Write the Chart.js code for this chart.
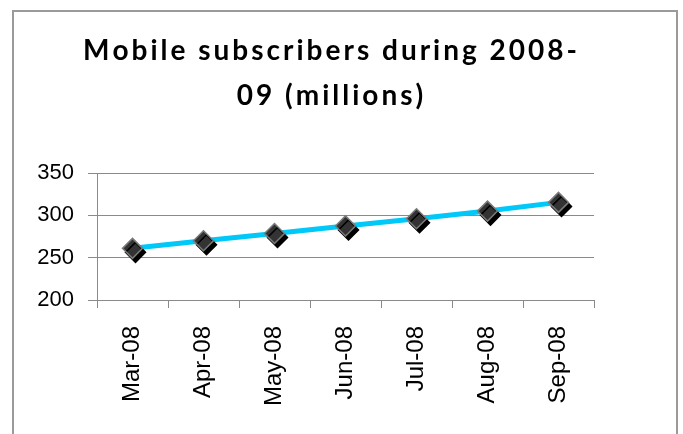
<!DOCTYPE html>
<html>
<head>
<meta charset="utf-8">
<script src="https://cdn.jsdelivr.net/npm/chart.js@4/dist/chart.umd.min.js"></script>
<style>
  html, body { margin: 0; padding: 0; background: #ffffff; }
  #wrap { position: relative; width: 683px; height: 434px; overflow: hidden; }
  #frame { position: absolute; left: 12px; top: 10px; width: 666px; height: 460px;
           border: 2px solid #9a9a9a; box-sizing: border-box; }
  #c { position: absolute; left: 0; top: 0; }
</style>
</head>
<body>
<div id="wrap">
  <div id="frame"></div>
  <canvas id="c" width="683" height="434"></canvas>
</div>
<script>
// Monthly mobile subscriber base, 2008 (millions)
const months = ["Mar-08", "Apr-08", "May-08", "Jun-08", "Jul-08", "Aug-08", "Sep-08"];
const subscribers = [261, 270, 278.6, 287.5, 296, 305, 315.3];
const yTicks = [200, 250, 300, 350];
const titleLines = ["Mobile subscribers during 2008-", "09 (millions)"];

// Drop shadow under the diamond markers only
const markerShadow = {
  id: 'markerShadow',
  beforeDatasetDraw(chart, args) {
    if (args.index !== 0) return;
    const ctx = chart.ctx;
    ctx.save();
    ctx.shadowColor = '#000000';
    ctx.shadowBlur = 0;
    ctx.shadowOffsetX = 3;
    ctx.shadowOffsetY = 4;
  },
  afterDatasetDraw(chart, args) {
    if (args.index !== 0) return;
    chart.ctx.restore();
  }
};

// Two-line bold heading with widened letter spacing, drawn glyph by glyph
const spacedTitle = {
  id: 'spacedTitle',
  afterDraw(chart, args, opts) {
    const ctx = chart.ctx;
    ctx.save();
    ctx.font = opts.font;
    ctx.fillStyle = opts.color;
    ctx.textAlign = 'left';
    ctx.textBaseline = 'alphabetic';
    opts.lines.forEach((line, i) => {
      const chars = Array.from(line);
      const widths = chars.map(ch => ctx.measureText(ch).width);
      const total = widths.reduce((a, b) => a + b, 0) + opts.spacing * (chars.length - 1);
      let x = opts.centerX - total / 2;
      const y = opts.firstBaseline + i * opts.lineGap;
      chars.forEach((ch, k) => {
        ctx.fillText(ch, x, y);
        x += widths[k] + opts.spacing;
      });
    });
    ctx.restore();
  }
};

new Chart(document.getElementById('c'), {
  type: 'line',
  data: {
    labels: months,
    datasets: [
      {
        data: subscribers,
        showLine: false,
        pointStyle: 'rectRot',
        pointRadius: 10,
        pointBackgroundColor: '#333333',
        pointBorderColor: '#7a7a7a',
        pointBorderWidth: 1.5
      },
      {
        data: subscribers,
        borderColor: '#00c8f8',
        borderWidth: 5,
        pointRadius: 0,
        tension: 0
      }
    ]
  },
  options: {
    responsive: false,
    animation: false,
    events: [],
    layout: { padding: { left: 20, right: 89, top: 173, bottom: 14 } },
    plugins: {
      legend: { display: false },
      tooltip: { enabled: false },
      title: { display: false },
      spacedTitle: {
        lines: titleLines,
        font: 'bold 28px Lato',
        color: '#000000',
        spacing: 3,
        centerX: 330,
        firstBaseline: 60,
        lineGap: 45
      }
    },
    scales: {
      x: {
        offset: true,
        grid: { display: true, drawOnChartArea: false, offset: true, tickLength: 8, color: '#8a8a8a' },
        border: { color: '#8a8a8a' },
        ticks: {
          color: '#000000',
          font: { family: 'Liberation Sans', size: 24 },
          minRotation: 90, maxRotation: 90,
          padding: 18
        },
        afterFit(scale) { scale.height = 120; }
      },
      y: {
        min: 200,
        max: 350,
        afterBuildTicks(scale) { scale.ticks = yTicks.map(v => ({ value: v })); },
        grid: { color: '#8a8a8a', tickLength: 9 },
        border: { color: '#8a8a8a' },
        ticks: {
          color: '#000000',
          font: { family: 'Liberation Sans', size: 22 },
          padding: 14
        },
        afterFit(scale) { scale.width = 77; }
      }
    }
  },
  plugins: [markerShadow, spacedTitle]
});
</script>
</body>
</html>
